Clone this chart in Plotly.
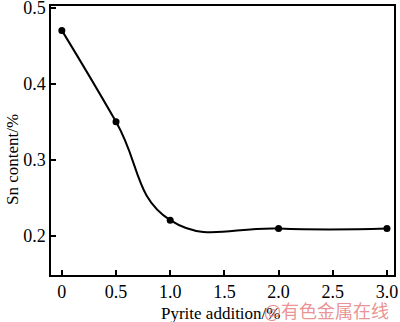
import plotly.graph_objects as go

pyrite = [0, 0.5, 1.0, 2.0, 3.0]
sn = [0.47, 0.35, 0.221, 0.21, 0.21]
x_ticks = [0, 0.5, 1.0, 1.5, 2.0, 2.5, 3.0]
x_labels = ["0", "0.5", "1.0", "1.5", "2.0", "2.5", "3.0"]
y_ticks = [0.2, 0.3, 0.4, 0.5]
y_labels = ["0.2", "0.3", "0.4", "0.5"]

fig = go.Figure()
fig.add_trace(go.Scatter(
    x=pyrite, y=sn, mode="lines+markers",
    line=dict(color="black", width=2, shape="spline", smoothing=1.3),
    marker=dict(color="black", size=7),
))

serif = "Liberation Serif, Times New Roman, serif"
font = dict(family=serif, size=17, color="black")
tickfont = dict(family=serif, size=18, color="black")
fig.update_layout(
    width=400, height=322,
    margin=dict(l=51, r=6, t=6, b=47),
    paper_bgcolor="white", plot_bgcolor="white",
    showlegend=False, font=font,
)
common = dict(
    ticks="inside", ticklen=5, tickwidth=1.5, tickcolor="black",
    showline=True, linecolor="black", linewidth=1.5, mirror=True,
    showgrid=False, zeroline=False, automargin=False, tickfont=tickfont,
    ticklabeloverflow="allow",
)
fig.update_xaxes(range=[-0.1, 3.065], tickvals=x_ticks, ticktext=x_labels, **common)
fig.update_yaxes(range=[0.149, 0.502], tickvals=y_ticks, ticktext=y_labels, **common)
fig.add_annotation(
    text="Pyrite addition/%", xref="paper", yref="paper", x=0.494, y=0,
    xanchor="center", yanchor="middle", yshift=-38, showarrow=False, font=font,
)
fig.add_annotation(
    text="Sn content/%", xref="paper", yref="paper", x=0, y=0.4275,
    xanchor="center", yanchor="middle", xshift=-39, textangle=-90,
    showarrow=False, font=font,
)
fig.add_annotation(
    text="@有色金属在线", xref="paper", yref="paper", x=0.802, y=0,
    xanchor="center", yanchor="middle", yshift=-35, showarrow=False,
    font=dict(family="Noto Sans CJK SC", size=18, color="rgba(228,120,120,0.8)"),
)
fig.write_html(
    "out.html",
    config={"displayModeBar": False},
    post_script="document.body.style.margin='0';document.body.style.overflow='hidden';",
)
